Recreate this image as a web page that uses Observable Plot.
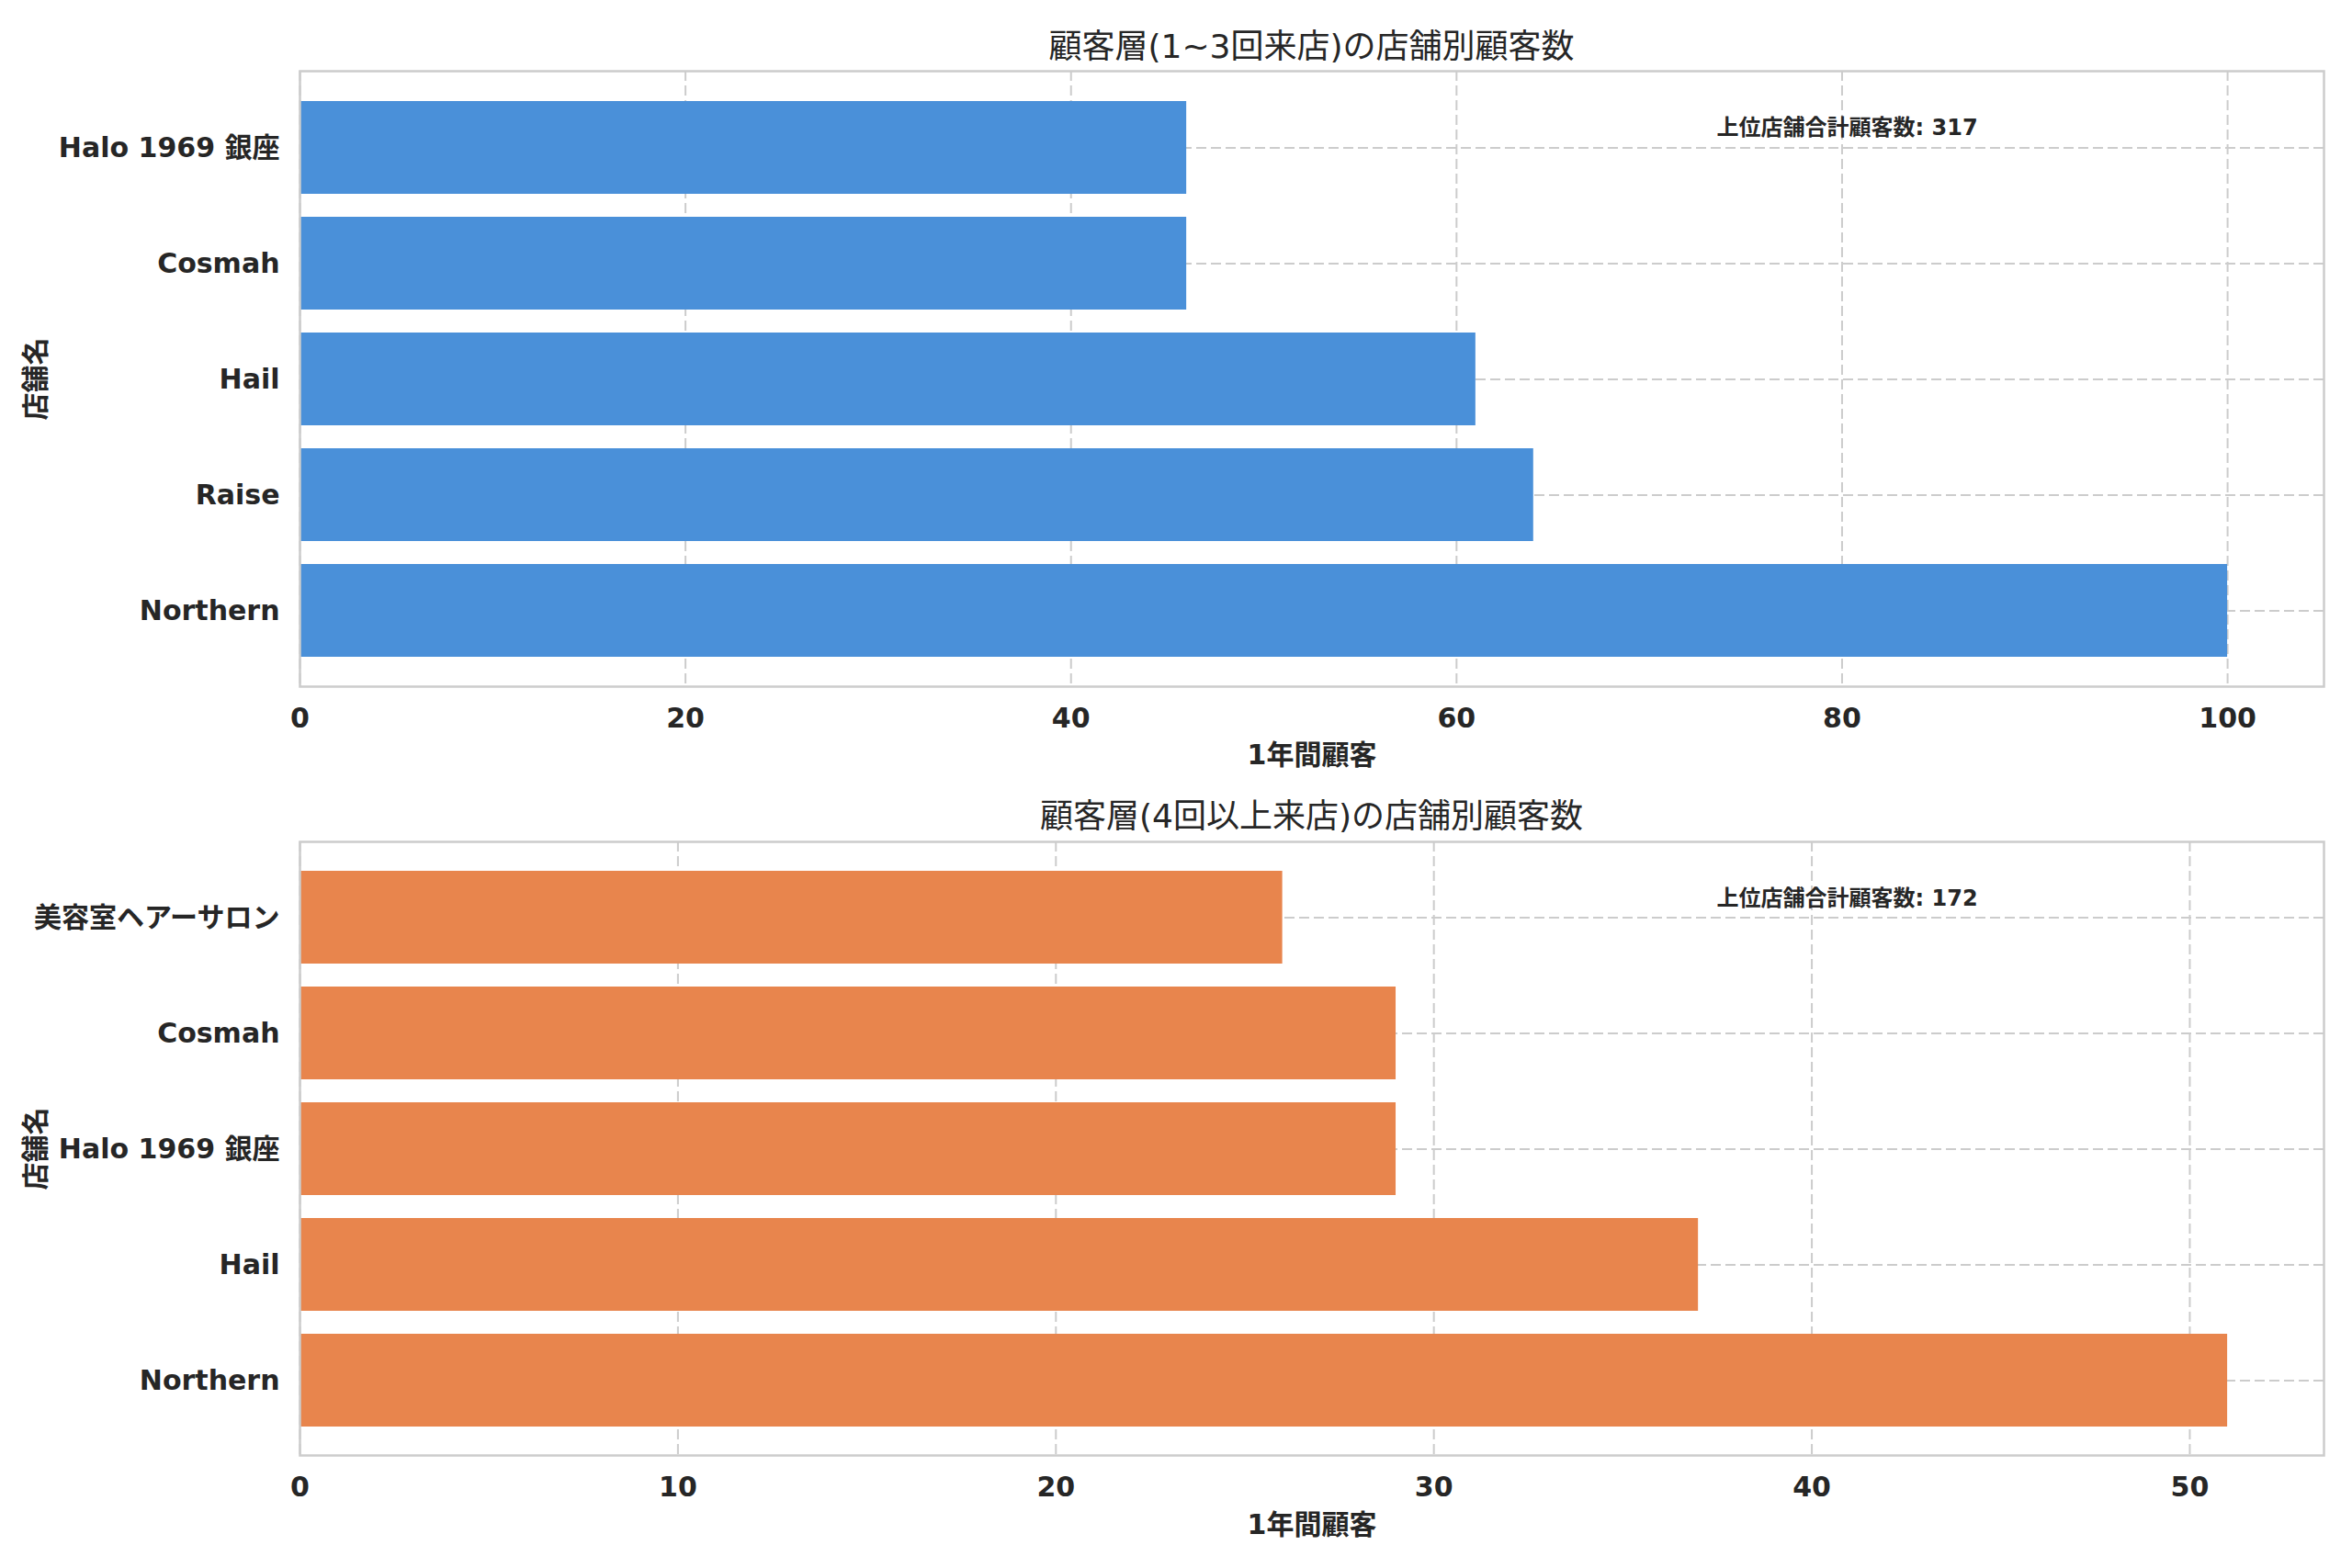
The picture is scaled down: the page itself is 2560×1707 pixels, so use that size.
<!DOCTYPE html>
<html>
<head>
<meta charset="utf-8">
<script src="https://cdn.jsdelivr.net/npm/d3@7"></script>
<script src="https://cdn.jsdelivr.net/npm/@observablehq/plot@0.6"></script>
<style>
  html, body { margin: 0; padding: 0; background: white; }
  #fig { position: relative; width: 2560px; height: 1707px; font-family: "DejaVu Sans", "Noto Sans CJK JP", sans-serif; color: #262626; }
  .title { position: absolute; transform: translate(-50%, -50%); font-size: 36px; white-space: nowrap; color: #262626; }
  .panel { position: absolute; left: 0; width: 2560px; }
  svg { display: block; }
</style>
</head>
<body>
<div id="fig"></div>
<script>
// ---- data ----
const topStores = ["Halo 1969 銀座", "Cosmah", "Hail", "Raise", "Northern"];
const topCounts = [46, 46, 61, 64, 100];
const topTicks = [0, 20, 40, 60, 80, 100];

const bottomStores = ["美容室ヘアーサロン", "Cosmah", "Halo 1969 銀座", "Hail", "Northern"];
const bottomCounts = [26, 29, 29, 37, 51];
const bottomTicks = [0, 10, 20, 30, 40, 50];

const topTitle = "顧客層(1~3回来店)の店舗別顧客数";
const bottomTitle = "顧客層(4回以上来店)の店舗別顧客数";
const yLabel = "店舗名";
const xLabel = "1年間顧客";
const totalPrefix = "上位店舗合計顧客数";

const topColor = "#4a90d9";
const bottomColor = "#e8854d";

// ---- layout ----
const W = 2560;
const mL = 326, mR = 31;
const frameW = W - mL - mR;
const font = "\"DejaVu Sans\", \"Noto Sans CJK JP\", sans-serif";

function panel({stores, counts, ticks, xmax, color, height, marginTop, marginBottom, xLabelDy}) {
  const table = stores.map((s, i) => ({store: s, count: counts[i]}));
  const total = d3.sum(counts);
  return Plot.plot({
    width: W,
    height,
    marginLeft: mL,
    marginRight: mR,
    marginTop,
    marginBottom,
    style: {fontFamily: font, fontSize: "30px", color: "#262626", background: "white"},
    x: {domain: [0, xmax]},
    y: {type: "band", domain: stores, paddingInner: 0.2, paddingOuter: 0.24},
    marks: [
      Plot.gridX(ticks, {stroke: "#cccccc", strokeOpacity: 1, strokeWidth: 2, strokeDasharray: "11,5"}),
      Plot.gridY({stroke: "#cccccc", strokeOpacity: 1, strokeWidth: 2, strokeDasharray: "11,5"}),
      Plot.barX(table, {x: "count", y: "store", fill: color}),
      Plot.axisX(ticks, {tickSize: 0, tickPadding: 23, fontSize: 30, fontWeight: "bold", label: null}),
      Plot.text([xLabel], {frameAnchor: "bottom", dy: xLabelDy, text: d => d, fontSize: 30,
        fontWeight: "bold", fill: "#262626"}),
      Plot.axisY({tickSize: 0, tickPadding: 22, fontSize: 30, fontWeight: "bold",
        label: yLabel, labelAnchor: "center", labelOffset: 299}),
      Plot.text([`${totalPrefix}: ${total}`], {frameAnchor: "top-left", dx: 0.7 * frameW, dy: 52,
        text: d => d, textAnchor: "start", fontSize: 24, fontWeight: "bold", fill: "#262626"}),
      Plot.frame({stroke: "#cccccc", strokeWidth: 2.5})
    ]
  });
}

const fig = document.getElementById("fig");

const p1 = document.createElement("div");
p1.className = "panel"; p1.style.top = "0px";
p1.appendChild(panel({stores: topStores, counts: topCounts, ticks: topTicks, xmax: 105, color: topColor,
  height: 853, marginTop: 77, marginBottom: 106, xLabelDy: 84}));
fig.appendChild(p1);

const p2 = document.createElement("div");
p2.className = "panel"; p2.style.top = "853px";
p2.appendChild(panel({stores: bottomStores, counts: bottomCounts, ticks: bottomTicks, xmax: 53.55, color: bottomColor,
  height: 854, marginTop: 63, marginBottom: 123, xLabelDy: 85}));
fig.appendChild(p2);

const cx = mL + frameW / 2;
for (const [t, y] of [[topTitle, 47], [bottomTitle, 885]]) {
  const d = document.createElement("div");
  d.className = "title";
  d.textContent = t;
  d.style.left = cx + "px";
  d.style.top = y + "px";
  fig.appendChild(d);
}
</script>
</body>
</html>
